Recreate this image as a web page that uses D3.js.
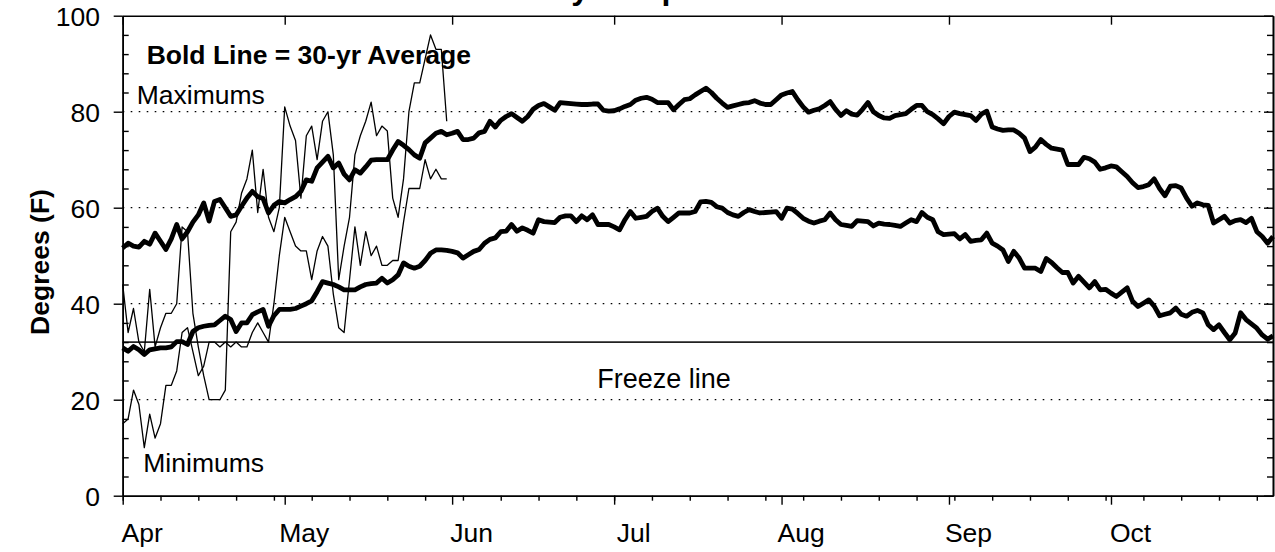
<!DOCTYPE html>
<html>
<head>
<meta charset="utf-8">
<script src="https://cdn.jsdelivr.net/npm/d3@7"></script>
<style>
  body { margin: 0; background: #fff; }
  svg { display: block; font-family: "Liberation Sans", Arial, sans-serif; }
</style>
</head>
<body>
<svg id="chart" width="1275" height="552"></svg>
<script>
// 30-yr average daily max / min, Apr 1 .. Oct 31 (one value per day)
var maxAvg = [
  51.6, 52.6, 52.0, 51.8, 53.0, 52.4, 54.7, 53.0, 51.3, 53.5,
  56.5, 53.5, 55.0, 57.0, 58.5, 61.0, 57.2, 61.3, 61.7, 60.0,
  58.2, 58.5, 60.3, 62.0, 63.4, 62.3, 61.9, 58.9, 60.5, 61.3,
  61.0, 61.7, 62.3, 63.4, 65.8, 65.5, 68.3, 69.5, 70.7, 68.3,
  69.3, 67.0, 65.8, 67.9, 67.2, 68.5, 69.9, 70.0, 70.0, 70.0,
  72.0, 73.8, 73.0, 72.1, 71.0, 70.3, 73.5, 74.5, 75.5, 75.9,
  75.2, 75.5, 75.9, 74.2, 74.2, 74.5, 75.6, 75.9, 78.0, 76.8,
  78.2, 79.0, 79.6, 78.8, 78.0, 79.0, 80.5, 81.3, 81.7, 81.0,
  80.3, 81.9, 81.8, 81.7, 81.6, 81.5, 81.5, 81.6, 81.6, 80.3,
  80.1, 80.2, 80.6, 81.1, 81.5, 82.4, 82.8, 83.0, 82.6, 81.9,
  81.9, 81.9, 80.4, 81.5, 82.5, 82.7, 83.5, 84.2, 84.9, 84.0,
  82.8, 81.8, 80.9, 81.2, 81.5, 81.8, 81.9, 82.3, 81.8, 81.5,
  81.5, 82.5, 83.5, 83.9, 84.2, 82.5, 81.0, 79.9, 80.3, 80.6,
  81.3, 82.1, 80.5, 79.2, 80.2, 79.5, 79.3, 80.5, 81.9, 80.0,
  79.2, 78.7, 78.6, 79.2, 79.4, 79.6, 80.5, 81.3, 81.3, 80.0,
  79.4, 78.5, 77.5, 79.0, 79.9, 79.6, 79.4, 79.2, 78.2, 79.5,
  80.1, 76.8, 76.4, 76.1, 76.2, 76.2, 75.5, 74.5, 71.7, 72.6,
  74.2, 73.2, 72.4, 72.2, 72.0, 69.0, 69.0, 69.0, 70.5, 70.2,
  69.5, 68.0, 68.3, 68.7, 68.5, 67.5, 66.5, 65.2, 64.2, 64.4,
  64.8, 66.0, 64.0, 62.5, 64.5, 64.6, 64.1, 62.0, 60.3, 61.0,
  60.6, 60.5, 56.8, 57.5, 58.2, 56.8, 57.3, 57.5, 56.9, 57.8,
  55.0, 54.0, 52.6, 54.0
];
var minAvg = [
  30.8, 30.1, 31.1, 30.4, 29.4, 30.4, 30.6, 30.8, 30.8, 31.0,
  32.1, 32.1, 31.5, 34.2, 35.0, 35.3, 35.5, 35.6, 36.5, 37.4,
  36.7, 34.2, 36.0, 36.0, 37.7, 38.3, 38.8, 35.3, 37.5, 38.8,
  38.8, 38.8, 39.0, 39.5, 40.0, 40.6, 42.5, 44.6, 44.3, 44.0,
  43.5, 42.9, 42.9, 42.9, 43.5, 44.0, 44.2, 44.3, 45.3, 44.3,
  45.0, 46.0, 48.5, 47.8, 47.4, 47.8, 49.0, 50.5, 51.2, 51.2,
  51.1, 50.9, 50.6, 49.5, 50.2, 50.9, 51.3, 52.6, 53.4, 53.7,
  55.0, 55.1, 56.5, 55.1, 55.8, 55.3, 54.7, 57.5, 57.1, 57.0,
  56.9, 58.0, 58.3, 58.3, 57.1, 58.3, 57.5, 58.5, 56.5, 56.5,
  56.5, 56.0, 55.4, 57.5, 59.2, 57.8, 58.0, 58.2, 59.2, 59.9,
  58.2, 57.1, 58.0, 58.9, 58.9, 58.9, 59.2, 61.2, 61.3, 61.1,
  60.2, 59.9, 59.0, 58.5, 58.2, 59.0, 59.6, 59.2, 58.9, 59.0,
  59.1, 59.2, 57.8, 59.9, 59.7, 58.8, 57.8, 57.2, 56.8, 57.2,
  57.5, 58.9, 57.5, 56.5, 56.3, 56.1, 57.3, 57.2, 57.1, 56.2,
  56.8, 56.6, 56.5, 56.3, 56.1, 56.8, 57.5, 57.1, 59.0, 58.0,
  57.5, 55.0, 54.4, 54.5, 54.6, 53.5, 54.4, 53.0, 53.2, 53.3,
  54.7, 52.6, 52.0, 51.2, 48.8, 50.9, 49.5, 47.4, 47.4, 47.4,
  46.7, 49.4, 48.6, 47.5, 46.5, 46.5, 44.3, 45.7, 44.5, 43.3,
  44.6, 42.9, 43.0, 42.2, 41.5, 42.4, 43.3, 40.5, 39.4, 40.1,
  40.8, 39.5, 37.5, 37.8, 38.1, 39.1, 37.8, 37.4, 38.2, 38.6,
  38.1, 35.6, 34.6, 35.6, 34.0, 32.5, 33.9, 38.1, 36.7, 35.8,
  34.9, 33.5, 32.6, 33.3
];
// this year's observed max / min, Apr 1 .. May 31
var maxObs = [
  44, 34, 39, 32, 30, 43, 31, 35, 38, 38,
  40, 56, 55, 38, 31, 25, 20, 20, 20, 22,
  55, 57, 63, 66, 72, 59, 68, 58, 55, 60,
  81, 77, 74, 62, 75, 77, 70, 78, 80, 71,
  45, 52, 58, 71, 75, 78, 82, 75, 77, 76,
  62, 58, 66, 80, 86, 86, 91, 96, 93, 93,
  78
];
var minObs = [
  15, 16, 22, 19, 10, 17, 12, 15, 23, 23,
  26, 34, 35, 30, 25, 27, 32, 32, 31, 32,
  31, 32, 31, 31, 34, 36, 34, 32, 40, 50,
  58, 55, 52, 51, 51, 45, 51, 54, 52, 42,
  35, 34, 45, 56, 48, 55, 50, 52, 48, 48,
  49, 49, 57, 64, 64, 64, 70, 66, 68, 66,
  66
];
var monthNames = ["Apr", "May", "Jun", "Jul", "Aug", "Sep", "Oct"];
var yMajor = [0, 20, 40, 60, 80, 100];
var gridValues = [20, 40, 60, 80];
var freezeTemp = 32;

var mLeft = 122.7, mRight = 1273, mTop = 15.7, mBottom = 495.7;
var fontSize = 26.5;
var svg = d3.select("#chart");

function dayDate(i) { return new Date(2019, 3, 1 + i); }

var x = d3.scaleTime()
    .domain([dayDate(0), dayDate(213)])
    .range([mLeft, mRight]);
var y = d3.scaleLinear()
    .domain([0, 100])
    .range([mBottom, mTop]);

var monthTicks = d3.timeMonth.range(dayDate(0), dayDate(214));
var weekTicks = d3.timeMonday.range(dayDate(0), dayDate(214));
var yMinor = d3.range(0, 101, 4).filter(function(v) { return v % 20 !== 0; });

// dotted grid
svg.append("g")
  .selectAll("line")
  .data(gridValues)
  .enter().append("line")
    .attr("x1", mLeft).attr("x2", mRight)
    .attr("y1", function(d) { return y(d); })
    .attr("y2", function(d) { return y(d); })
    .attr("stroke", "#000")
    .attr("stroke-width", 1.3)
    .attr("stroke-dasharray", "1.6,6.4");

// freeze line
svg.append("line")
    .attr("x1", mLeft).attr("x2", mRight)
    .attr("y1", y(freezeTemp)).attr("y2", y(freezeTemp))
    .attr("stroke", "#222")
    .attr("stroke-width", 1.8);

// bottom axis: weekly minor ticks + month ticks
svg.append("g")
    .attr("transform", "translate(0," + mBottom + ")")
    .call(d3.axisBottom(x).tickValues(weekTicks).tickSize(5).tickSizeOuter(0).tickFormat(""));
svg.append("g")
    .attr("class", "xmonth")
    .attr("transform", "translate(0," + mBottom + ")")
    .call(d3.axisBottom(x).tickValues(monthTicks).tickSize(9).tickSizeOuter(0)
      .tickFormat(function(d, i) { return monthNames[i]; }));
svg.selectAll(".xmonth text")
    .attr("x", 19)
    .attr("y", 46.5)
    .attr("dy", 0)
    .attr("font-size", fontSize);

// top axis, month ticks pointing in
svg.append("g")
    .attr("transform", "translate(0," + mTop + ")")
    .call(d3.axisBottom(x).tickValues(monthTicks).tickSize(9).tickSizeOuter(0).tickFormat(""));

// left axis
svg.append("g")
    .attr("class", "yleft")
    .attr("transform", "translate(" + mLeft + ",0)")
    .call(d3.axisLeft(y).tickValues(yMajor).tickSize(9).tickSizeOuter(0).tickPadding(13.7));
svg.selectAll(".yleft text").attr("font-size", fontSize).attr("dy", "0.36em");
svg.append("g")
    .attr("transform", "translate(" + mLeft + ",0)")
    .call(d3.axisRight(y).tickValues(yMinor).tickSize(6).tickSizeOuter(0).tickFormat(""));

// right axis, ticks pointing in
svg.append("g")
    .attr("transform", "translate(" + mRight + ",0)")
    .call(d3.axisLeft(y).tickValues(yMinor).tickSize(6).tickSizeOuter(0).tickFormat(""));
svg.append("g")
    .attr("transform", "translate(" + mRight + ",0)")
    .call(d3.axisLeft(y).tickValues(yMajor).tickSize(9).tickSizeOuter(0).tickFormat(""));

svg.selectAll(".domain").attr("stroke-width", 1.6);
svg.selectAll(".tick line").attr("stroke-width", 1.4);

var line = d3.line()
    .x(function(d, i) { return x(dayDate(i)); })
    .y(function(d) { return y(d); });

// observed (thin)
[maxObs, minObs].forEach(function(s) {
  svg.append("path")
      .datum(s)
      .attr("d", line)
      .attr("fill", "none")
      .attr("stroke", "#000")
      .attr("stroke-width", 1.3)
      .attr("stroke-linejoin", "round");
});

// 30-yr averages (bold)
[maxAvg, minAvg].forEach(function(s) {
  svg.append("path")
      .datum(s)
      .attr("d", line)
      .attr("fill", "none")
      .attr("stroke", "#000")
      .attr("stroke-width", 4.8)
      .attr("stroke-linejoin", "round");
});

// labels
svg.append("text")
    .attr("x", 660).attr("y", -1.5)
    .attr("text-anchor", "middle")
    .attr("font-size", 32).attr("font-weight", "bold")
    .text("Daily Temperatures");

svg.append("text")
    .attr("transform", "translate(49,262) rotate(-90)")
    .attr("text-anchor", "middle")
    .attr("font-size", fontSize).attr("font-weight", "bold")
    .text("Degrees (F)");

svg.append("text")
    .attr("x", 146.7).attr("y", 64.3)
    .attr("font-size", fontSize).attr("font-weight", "bold")
    .text("Bold Line = 30-yr Average");
svg.append("text")
    .attr("x", 136.7).attr("y", 104)
    .attr("font-size", fontSize)
    .text("Maximums");
svg.append("text")
    .attr("x", 143.3).attr("y", 471.7)
    .attr("font-size", fontSize)
    .text("Minimums");
svg.append("text")
    .attr("x", 664).attr("y", 388)
    .attr("text-anchor", "middle")
    .attr("font-size", 27)
    .text("Freeze line");
</script>
</body>
</html>
